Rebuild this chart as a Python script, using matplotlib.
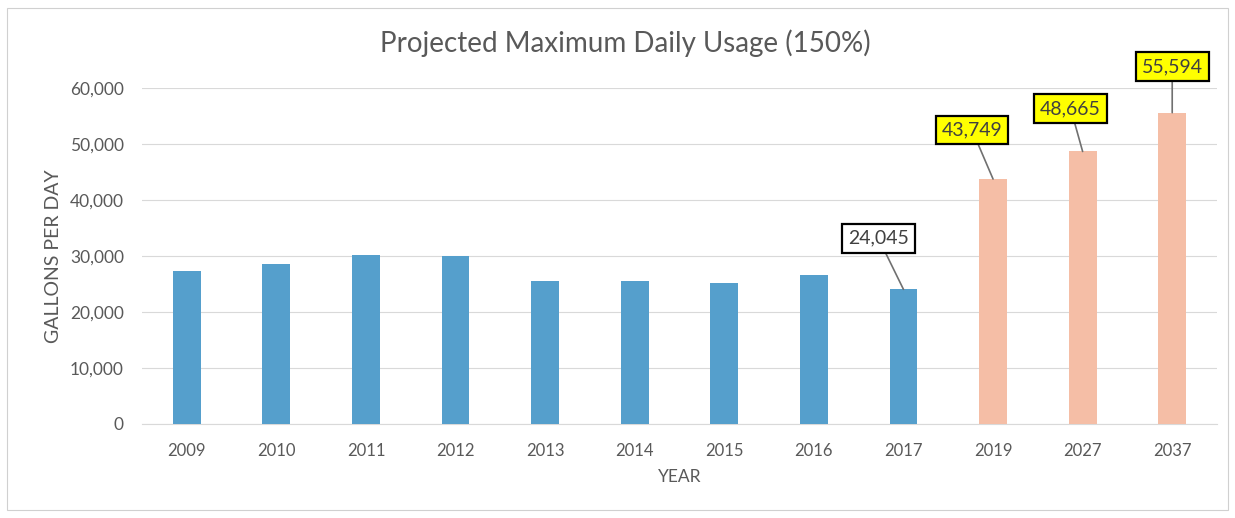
import matplotlib
matplotlib.use("Agg")
import matplotlib.pyplot as plt
from matplotlib.patches import Rectangle
from matplotlib.ticker import FuncFormatter

plt.rcParams['font.family'] = ['Lato', 'DejaVu Sans']

years = ["2009", "2010", "2011", "2012", "2013", "2014", "2015", "2016", "2017", "2019", "2027", "2037"]
usage = [27300, 28600, 30200, 30000, 25500, 25500, 25200, 26600, 24045, 43749, 48665, 55594]
projected = [False] * 9 + [True] * 3
labeled = {8: "white", 9: "#ffff00", 10: "#ffff00", 11: "#ffff00"}
label_offsets = {8: (-25, 51), 9: (-21, 49), 10: (-12, 43), 11: (0, 46)}

blue = "#559fcc"
peach = "#f5bea6"
text_gray = "#595959"

fig = plt.figure(figsize=(12.35, 5.18), dpi=100)
fig.patches.append(Rectangle((0.006, 0.015), 0.988, 0.97, transform=fig.transFigure,
                             fill=False, edgecolor="#d0d0d0", linewidth=0.8))
ax = fig.add_axes([142 / 1235, 1 - 424 / 518, (1217 - 142) / 1235, (424 - 88) / 518])

x = list(range(len(years)))
colors = [peach if p else blue for p in projected]
ax.bar(x, usage, width=0.31, color=colors, zorder=3)

ax.set_xlim(-0.5, len(years) - 0.5)
ax.set_ylim(0, 60000)
ax.set_yticks(range(0, 60001, 10000))
ax.yaxis.set_major_formatter(FuncFormatter(lambda v, p: f"{int(v):,}"))
ax.set_xticks(x)
ax.set_xticklabels(years)
ax.grid(axis='y', color="#d9d9d9", linewidth=0.8, zorder=0)
for s in ax.spines.values():
    s.set_visible(False)
ax.spines['bottom'].set_visible(True)
ax.spines['bottom'].set_color("#d9d9d9")
ax.tick_params(axis='y', length=0, labelsize=12.5, labelcolor=text_gray, pad=13)
ax.tick_params(axis='x', length=0, labelsize=12, labelcolor=text_gray, pad=14)

fig.text(625 / 1235, 1 - 43 / 518, "Projected Maximum Daily Usage (150%)", fontsize=20,
         color=text_gray, ha='center', va='center')
ax.set_xlabel("YEAR", fontsize=12.5, color=text_gray, labelpad=7)
ax.set_ylabel("GALLONS PER DAY", fontsize=14, color=text_gray, labelpad=6)

for i, fc in labeled.items():
    ax.annotate(f"{usage[i]:,}", xy=(i, usage[i]), xytext=label_offsets[i],
                textcoords='offset pixels', ha='center', va='center',
                fontsize=14, color="#404040",
                bbox=dict(boxstyle='square,pad=0.3', fc=fc, ec='black', lw=1.6),
                arrowprops=dict(arrowstyle='-', color='#707070', lw=1.2, shrinkA=0, shrinkB=0),
                zorder=5)

fig.savefig("out.png", dpi=100)
